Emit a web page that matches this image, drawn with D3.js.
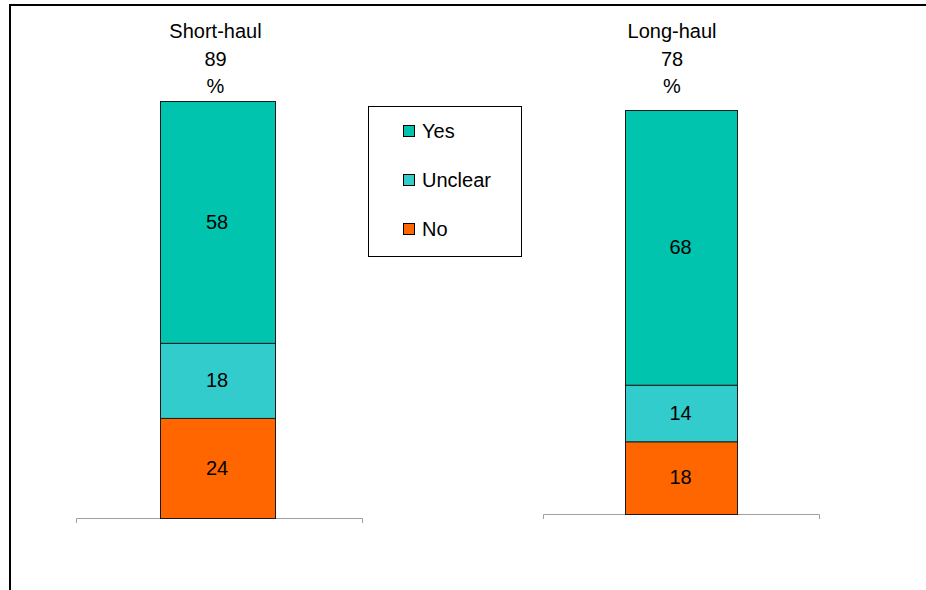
<!DOCTYPE html>
<html>
<head>
<meta charset="utf-8">
<script src="https://cdn.jsdelivr.net/npm/d3@7"></script>
<style>
  html, body { margin: 0; padding: 0; background: #fff; }
  svg { display: block; font-family: "Liberation Sans", Arial, sans-serif; }
</style>
</head>
<body>
<svg id="chart" width="926" height="590"></svg>
<script>
// Categories (one stacked bar each), their headline figures and the stack segments
const categories = ["Short-haul", "Long-haul"];
const headline = [89, 78];
const seriesNames = ["No", "Unclear", "Yes"];      // stacked bottom to top
const noValues = [24, 18];
const unclearValues = [18, 14];
const yesValues = [58, 68];
const legendOrder = ["Yes", "Unclear", "No"];

const colors = { Yes: "#00C4AE", Unclear: "#33CCCC", No: "#FF6600" };

// Each bar sits in its own small panel with its own baseline and height
const panels = [
  { axisX0: 76,  axisX1: 362, base: 518, top: 101, barX0: 160, barX1: 275, titleX: 215.5 },
  { axisX0: 543, axisX1: 819, base: 514, top: 110, barX0: 625, barX1: 737, titleX: 672 }
];

const rows = categories.map((c, i) => ({
  category: c, headline: headline[i],
  No: noValues[i], Unclear: unclearValues[i], Yes: yesValues[i]
}));
const stacked = d3.stack().keys(seriesNames)(rows);

const svg = d3.select("#chart");

// Outer frame (top and left edges)
svg.append("path")
  .attr("d", "M10,590 V5 H926")
  .attr("fill", "none")
  .attr("stroke", "#000")
  .attr("stroke-width", 2);

rows.forEach((row, i) => {
  const p = panels[i];
  const y = d3.scaleLinear().domain([0, 100]).range([p.base, p.top]);
  const x = d3.scaleBand().domain([row.category]).range([p.barX0, p.barX1]).padding(0);
  const g = svg.append("g");

  // Category axis: flat line with short end ticks
  g.append("path")
    .attr("d", `M${p.axisX0 + 0.5},${p.base + 5} V${p.base + 0.5} H${p.axisX1 + 0.5} V${p.base + 5}`)
    .attr("fill", "none")
    .attr("stroke", "#A0A0A0")
    .attr("stroke-width", 1);

  // Stacked segments
  stacked.forEach(layer => {
    const d = layer[i];
    g.append("rect")
      .attr("x", x(row.category) + 0.5)
      .attr("y", y(d[1]) + 0.5)
      .attr("width", x.bandwidth())
      .attr("height", y(d[0]) - y(d[1]))
      .attr("fill", colors[layer.key])
      .attr("stroke", "#1a1a1a")
      .attr("stroke-width", 1);

    g.append("text")
      .attr("x", x(row.category) + x.bandwidth() / 2 - 0.5)
      .attr("y", (y(d[0]) + y(d[1])) / 2 - 0.5)
      .attr("dy", "0.36em")
      .attr("text-anchor", "middle")
      .attr("font-size", 20)
      .attr("fill", "#000")
      .text(d.data[layer.key]);
  });

  // Title block: category, headline figure, unit
  [row.category, row.headline, "%"].forEach((t, k) => {
    g.append("text")
      .attr("x", p.titleX)
      .attr("y", 38 + k * 27.5)
      .attr("text-anchor", "middle")
      .attr("font-size", 20)
      .attr("fill", "#000")
      .text(t);
  });
});

// Legend
const legend = svg.append("g");
legend.append("rect")
  .attr("x", 368.5).attr("y", 106.5)
  .attr("width", 153).attr("height", 150)
  .attr("fill", "#fff")
  .attr("stroke", "#000")
  .attr("stroke-width", 1);

legendOrder.forEach((name, k) => {
  const cy = 131 + k * 49;
  legend.append("rect")
    .attr("x", 403.5).attr("y", cy - 5.5)
    .attr("width", 11).attr("height", 11)
    .attr("fill", colors[name])
    .attr("stroke", "#000")
    .attr("stroke-width", 1);
  legend.append("text")
    .attr("x", 422)
    .attr("y", cy)
    .attr("dy", "0.36em")
    .attr("font-size", 20)
    .attr("fill", "#000")
    .text(name);
});
</script>
</body>
</html>
